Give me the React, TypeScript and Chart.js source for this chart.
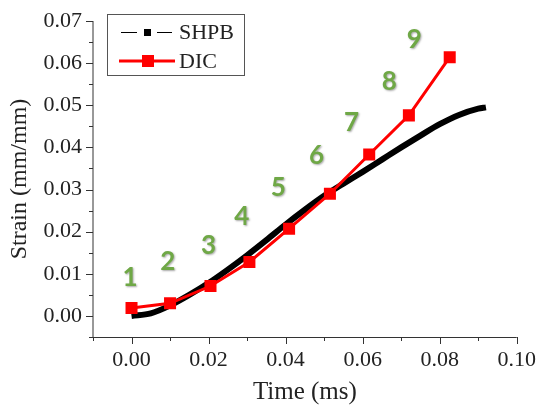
import React, { useEffect, useRef } from "react";
import { Chart, registerables } from "chart.js";

Chart.register(...registerables);

const shpbTime = [0, 0.005, 0.01, 0.015, 0.02, 0.025, 0.03, 0.035, 0.04, 0.045, 0.05, 0.055, 0.06, 0.065, 0.07, 0.075, 0.08, 0.085, 0.09, 0.092];
const shpbStrain = [0, 0.0006, 0.0025, 0.005, 0.0078, 0.011, 0.0144, 0.018, 0.0217, 0.0252, 0.0285, 0.0314, 0.0342, 0.0371, 0.04, 0.0428, 0.0455, 0.0477, 0.0492, 0.0495];

const dicTime = [0, 0.01, 0.0205, 0.0306, 0.0409, 0.0515, 0.0617, 0.072, 0.0826];
const dicStrain = [0.0019, 0.003, 0.0071, 0.0128, 0.0207, 0.029, 0.0383, 0.0476, 0.0614];

const frameLabels = ["1", "2", "3", "4", "5", "6", "7", "8", "9"];
const frameLabelTime = [-0.0004, 0.0094, 0.02, 0.0286, 0.0381, 0.048, 0.0571, 0.0669, 0.0734];
const frameLabelStrain = [0.0092, 0.013, 0.0168, 0.0235, 0.0304, 0.038, 0.046, 0.0555, 0.0655];

const xTickValues = [-0.01, 0, 0.01, 0.02, 0.03, 0.04, 0.05, 0.06, 0.07, 0.08, 0.09, 0.1];
const xTickLabels = ["", "0.00", "", "0.02", "", "0.04", "", "0.06", "", "0.08", "", "0.10"];
const yTickValues = [-0.005, 0, 0.005, 0.01, 0.015, 0.02, 0.025, 0.03, 0.035, 0.04, 0.045, 0.05, 0.055, 0.06, 0.065, 0.07];
const yTickLabels = ["", "0.00", "", "0.01", "", "0.02", "", "0.03", "", "0.04", "", "0.05", "", "0.06", "", "0.07"];

const SERIF = "'Liberation Serif', 'Times New Roman', serif";
const AXIS_COLOR = "#333";
const TEXT_COLOR = "#222";

const axesPlugin = {
  id: "axesPlugin",
  afterDraw(chart: any) {
    const ctx = chart.ctx;
    const xs = chart.scales.x;
    const ys = chart.scales.y;
    const { left, right, top, bottom } = chart.chartArea;
    ctx.save();
    ctx.strokeStyle = AXIS_COLOR;
    ctx.lineWidth = 1;
    ctx.beginPath();
    ctx.moveTo(left, top);
    ctx.lineTo(left, bottom + 0.5);
    ctx.lineTo(right, bottom + 0.5);
    ctx.stroke();
    ctx.beginPath();
    xTickValues.forEach((v, i) => {
      const px = Math.round(xs.getPixelForValue(v)) + 0.5;
      const len = xTickLabels[i] ? 7 : 4;
      ctx.moveTo(px, bottom);
      ctx.lineTo(px, bottom + len);
    });
    yTickValues.forEach((v, i) => {
      const py = Math.round(ys.getPixelForValue(v)) + 0.5;
      const len = yTickLabels[i] ? 7 : 4;
      ctx.moveTo(left, py);
      ctx.lineTo(left - len, py);
    });
    ctx.stroke();
    ctx.restore();
  },
};

const labelsPlugin = {
  id: "frameLabels",
  afterDatasetsDraw(chart: any) {
    const ctx = chart.ctx;
    const xs = chart.scales.x;
    const ys = chart.scales.y;
    ctx.save();
    ctx.font = "bold 26px Lato, 'Open Sans', sans-serif";
    ctx.textAlign = "center";
    ctx.textBaseline = "middle";
    ctx.fillStyle = "#6FA846";
    ctx.shadowColor = "rgba(0,0,0,0.35)";
    ctx.shadowBlur = 2;
    ctx.shadowOffsetX = 1;
    ctx.shadowOffsetY = 1;
    frameLabels.forEach((t, i) => {
      ctx.fillText(t, xs.getPixelForValue(frameLabelTime[i]), ys.getPixelForValue(frameLabelStrain[i]));
    });
    ctx.restore();
  },
};

const legendPlugin = {
  id: "customLegend",
  afterDraw(chart: any) {
    const ctx = chart.ctx;
    const ds = chart.data.datasets;
    ctx.save();
    ctx.strokeStyle = "#555";
    ctx.lineWidth = 1;
    ctx.strokeRect(107.5, 14.5, 137, 61);
    const y1 = 32.5;
    ctx.strokeStyle = "#000";
    ctx.lineWidth = 1;
    ctx.beginPath();
    ctx.moveTo(121, y1);
    ctx.lineTo(137, y1);
    ctx.moveTo(157, y1);
    ctx.lineTo(172, y1);
    ctx.stroke();
    ctx.fillStyle = "#000";
    ctx.fillRect(144, y1 - 3.5, 7, 7);
    const y2 = 61;
    ctx.strokeStyle = "#ff0000";
    ctx.lineWidth = 3;
    ctx.beginPath();
    ctx.moveTo(119, y2);
    ctx.lineTo(175, y2);
    ctx.stroke();
    ctx.fillStyle = "#ff0000";
    ctx.fillRect(142, y2 - 6, 12, 12);
    ctx.font = "22px " + SERIF;
    ctx.fillStyle = TEXT_COLOR;
    ctx.textAlign = "left";
    ctx.textBaseline = "middle";
    ctx.fillText(ds[1].label, 179, y1 + 1);
    ctx.fillText(ds[0].label, 179, y2 + 1);
    ctx.restore();
  },
};

export default function App() {
  const canvasRef = useRef<HTMLCanvasElement | null>(null);

  useEffect(() => {
    const canvas = canvasRef.current;
    if (!canvas) return;
    const chart = new Chart(canvas, {
      type: "line",
      data: {
        datasets: [
          {
            label: "DIC",
            data: dicTime.map((t, i) => ({ x: t, y: dicStrain[i] })),
            borderColor: "#ff0000",
            backgroundColor: "#ff0000",
            borderWidth: 3,
            pointStyle: "rect",
            pointRadius: 8.5,
            pointBorderWidth: 0,
            pointBackgroundColor: "#ff0000",
            tension: 0,
          },
          {
            label: "SHPB",
            data: shpbTime.map((t, i) => ({ x: t, y: shpbStrain[i] })),
            borderColor: "#000000",
            backgroundColor: "#000000",
            borderWidth: 6,
            pointRadius: 0,
            cubicInterpolationMode: "monotone",
          },
        ],
      },
      options: {
        responsive: false,
        animation: false,
        devicePixelRatio: 1,
        layout: { padding: { top: 21, right: 21, left: 0, bottom: 0 } },
        plugins: {
          legend: { display: false },
          tooltip: { enabled: false },
        },
        scales: {
          x: {
            type: "linear",
            min: -0.01,
            max: 0.1,
            afterBuildTicks: (s: any) => {
              s.ticks = xTickValues.map((v) => ({ value: v }));
            },
            afterFit: (s: any) => {
              s.height = 74;
            },
            border: { display: false },
            grid: { drawOnChartArea: false, color: "rgba(0,0,0,0)", tickLength: 7 },
            ticks: {
              autoSkip: false,
              maxRotation: 0,
              padding: 3,
              color: TEXT_COLOR,
              font: { family: SERIF, size: 22 },
              callback: (_v: any, i: number) => xTickLabels[i],
            },
            title: {
              display: true,
              text: "Time (ms)",
              color: TEXT_COLOR,
              font: { family: SERIF, size: 25 },
              padding: { top: 0, bottom: 4 },
              align: "center",
            },
          },
          y: {
            type: "linear",
            min: -0.005,
            max: 0.07,
            afterBuildTicks: (s: any) => {
              s.ticks = yTickValues.map((v) => ({ value: v }));
            },
            afterFit: (s: any) => {
              s.width = 93;
            },
            border: { display: false },
            grid: { drawOnChartArea: false, color: "rgba(0,0,0,0)", tickLength: 7 },
            ticks: {
              autoSkip: false,
              padding: 4,
              color: TEXT_COLOR,
              font: { family: SERIF, size: 22 },
              callback: (_v: any, i: number) => yTickLabels[i],
            },
            title: {
              display: true,
              text: "Strain (mm/mm)",
              color: TEXT_COLOR,
              font: { family: SERIF, size: 24 },
              padding: { top: 5, bottom: 0 },
            },
          },
        },
      },
      plugins: [axesPlugin, labelsPlugin, legendPlugin],
    } as any);
    return () => chart.destroy();
  }, []);

  return (
    <div style={{ position: "fixed", left: 0, top: 0, width: 539, height: 411, background: "#fff" }}>
      <canvas ref={canvasRef} width={539} height={411} style={{ width: 539, height: 411, display: "block" }} />
    </div>
  );
}
